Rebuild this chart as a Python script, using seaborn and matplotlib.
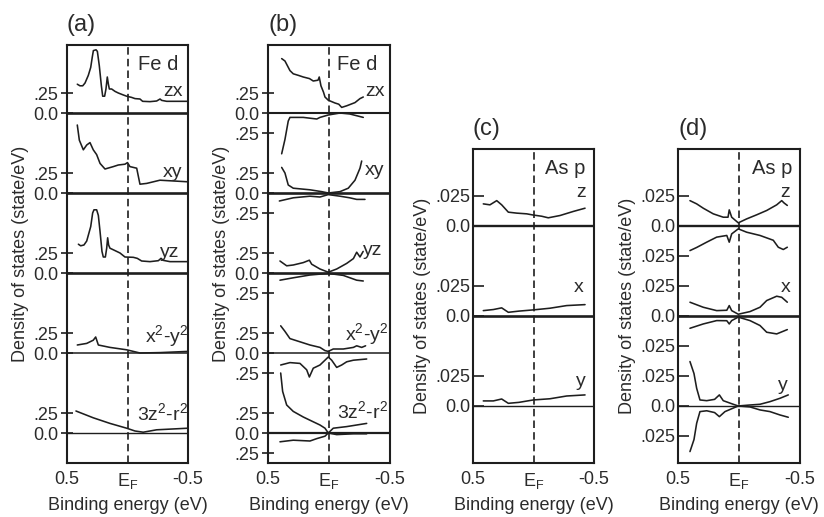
import pandas as pd
import seaborn as sns
import matplotlib.pyplot as plt

# energies (eV, binding) and DOS values; down-spin stored as negative
# --- (a) Fe d ---
a_zx = [(0.415, 0.36), (0.393, 0.34), (0.370, 0.34), (0.351, 0.375), (0.324, 0.47), (0.304, 0.57),
        (0.291, 0.70), (0.282, 0.78), (0.260, 0.79), (0.249, 0.77), (0.233, 0.59), (0.216, 0.34),
        (0.205, 0.21), (0.189, 0.21), (0.178, 0.30), (0.167, 0.45), (0.158, 0.36), (0.150, 0.30),
        (0.131, 0.30), (0.103, 0.27), (0.076, 0.25), (0.034, 0.225), (0.007, 0.21), (-0.034, 0.195),
        (-0.062, 0.18), (-0.103, 0.175), (-0.125, 0.146), (-0.186, 0.142), (-0.241, 0.15),
        (-0.269, 0.175), (-0.282, 0.158), (-0.324, 0.146), (-0.503, 0.146)]
a_xy = [(0.415, 0.85), (0.398, 0.66), (0.365, 0.54), (0.337, 0.60), (0.310, 0.63), (0.283, 0.54),
        (0.255, 0.48), (0.227, 0.37), (0.186, 0.30), (0.117, 0.33), (0.076, 0.35), (0.021, 0.36),
        (0.0, 0.38), (-0.02, 0.33), (-0.076, 0.31), (-0.103, 0.11), (-0.159, 0.12), (-0.268, 0.16),
        (-0.5, 0.14)]
a_yz = [(0.406, 0.36), (0.387, 0.34), (0.360, 0.35), (0.337, 0.40), (0.304, 0.58), (0.288, 0.75),
        (0.277, 0.79), (0.255, 0.79), (0.241, 0.72), (0.227, 0.52), (0.211, 0.27), (0.200, 0.20),
        (0.183, 0.20), (0.172, 0.31), (0.164, 0.44), (0.156, 0.35), (0.145, 0.31), (0.117, 0.29),
        (0.062, 0.25), (0.021, 0.20), (-0.048, 0.196), (-0.081, 0.183), (-0.117, 0.15),
        (-0.186, 0.142), (-0.255, 0.154), (-0.277, 0.183), (-0.296, 0.158), (-0.351, 0.142),
        (-0.503, 0.142)]
a_x2y2 = [(0.415, 0.10), (0.337, 0.12), (0.283, 0.16), (0.263, 0.20), (0.241, 0.10), (0.145, 0.07),
          (0.007, 0.04), (-0.103, 0.0), (-0.27, 0.005), (-0.5, 0.02)]
a_z2 = [(0.426, 0.275), (0.283, 0.19), (0.145, 0.12), (0.007, 0.06), (-0.062, 0.025), (-0.13, 0.01),
        (-0.241, 0.04), (-0.5, 0.06)]

# --- (b) Fe d, spin up / spin down ---
b_zx_up = [(0.388, 0.68), (0.361, 0.65), (0.32, 0.53), (0.293, 0.49), (0.25, 0.47), (0.211, 0.45),
           (0.16, 0.43), (0.129, 0.40), (0.09, 0.41), (0.08, 0.45), (0.066, 0.34), (0.045, 0.26),
           (0.033, 0.20), (0.006, 0.16), (-0.049, 0.125), (-0.08, 0.11), (-0.104, 0.07),
           (-0.145, 0.09), (-0.213, 0.13), (-0.254, 0.18), (-0.281, 0.20)]
b_zx_dn = [(0.388, -0.51), (0.361, -0.33), (0.334, -0.10), (0.32, -0.055), (0.211, -0.055),
           (0.10, -0.075), (0.074, -0.055), (0.006, -0.025), (-0.09, 0.0), (-0.17, -0.012),
           (-0.281, -0.055)]
b_xy_up = [(0.388, 0.32), (0.361, 0.25), (0.334, 0.10), (0.293, 0.06), (0.156, 0.04), (0.06, 0.017),
           (0.006, 0.0), (-0.09, 0.017), (-0.158, 0.06), (-0.213, 0.16), (-0.254, 0.31),
           (-0.268, 0.40)]
b_xy_dn = [(0.407, -0.10), (0.293, -0.06), (0.156, -0.04), (0.074, -0.05), (0.006, -0.02),
           (-0.09, -0.04), (-0.17, -0.06), (-0.227, -0.08), (-0.295, -0.08)]
b_yz_up = [(0.402, 0.15), (0.347, 0.09), (0.293, 0.10), (0.211, 0.13), (0.161, 0.16), (0.142, 0.11),
           (0.074, 0.05), (0.006, 0.01), (-0.063, 0.05), (-0.145, 0.12), (-0.2, 0.18),
           (-0.227, 0.26), (-0.254, 0.20), (-0.28, 0.27)]
b_yz_dn = [(0.402, -0.09), (0.293, -0.06), (0.156, -0.025), (0.006, -0.005), (-0.117, -0.03),
           (-0.227, -0.09), (-0.281, -0.10)]
b_x2y2_up = [(0.396, 0.34), (0.361, 0.27), (0.32, 0.18), (0.238, 0.14), (0.156, 0.10), (0.074, 0.07),
             (0.033, 0.03), (0.006, 0.02), (-0.035, 0.05), (-0.117, 0.05), (-0.2, 0.07),
             (-0.227, 0.09), (-0.268, 0.07), (-0.3, 0.09)]
b_x2y2_dn = [(0.396, -0.15), (0.32, -0.12), (0.238, -0.13), (0.183, -0.21), (0.161, -0.30),
             (0.129, -0.19), (0.074, -0.15), (0.033, -0.09), (0.006, -0.05), (-0.022, -0.09),
             (-0.063, -0.18), (-0.104, -0.15), (-0.145, -0.11), (-0.2, -0.09), (-0.309, -0.075)]
b_z2_up = [(0.396, 0.75), (0.38, 0.52), (0.347, 0.35), (0.293, 0.27), (0.211, 0.20), (0.129, 0.14),
           (0.074, 0.10), (0.033, 0.06), (0.006, 0.0), (-0.035, 0.06), (-0.145, 0.08),
           (-0.227, 0.10), (-0.309, 0.12)]
b_z2_dn = [(0.402, -0.11), (0.293, -0.09), (0.156, -0.10), (0.10, -0.07), (0.033, -0.04),
           (0.006, 0.0), (-0.063, -0.02), (-0.2, -0.01), (-0.309, -0.01)]

# --- (c) As p ---
c_z = [(0.415, 0.0183), (0.36, 0.0175), (0.304, 0.021), (0.263, 0.0175), (0.208, 0.0114),
       (0.139, 0.0106), (0.056, 0.010), (0.002, 0.009), (-0.068, 0.008), (-0.122, 0.0067),
       (-0.219, 0.0086), (-0.329, 0.012), (-0.426, 0.0147)]
c_x = [(0.415, 0.0044), (0.332, 0.0053), (0.263, 0.0067), (0.208, 0.003), (0.12, 0.004),
       (0.002, 0.005), (-0.136, 0.0064), (-0.274, 0.0086), (-0.426, 0.0094)]
c_y = [(0.415, 0.0042), (0.332, 0.0042), (0.263, 0.0058), (0.208, 0.0022), (0.12, 0.003),
       (0.002, 0.005), (-0.136, 0.006), (-0.274, 0.0083), (-0.426, 0.0092)]

# --- (d) As p, spin up / spin down ---
d_z_up = [(0.402, 0.021), (0.347, 0.0183), (0.293, 0.0147), (0.211, 0.010), (0.129, 0.0072),
          (0.09, 0.0072), (0.08, 0.0133), (0.06, 0.0072), (0.006, 0.0025), (-0.063, 0.0058),
          (-0.145, 0.0092), (-0.227, 0.0128), (-0.309, 0.0175), (-0.35, 0.021), (-0.37, 0.019),
          (-0.396, 0.017)]
d_z_dn = [(0.402, -0.0206), (0.347, -0.018), (0.265, -0.0136), (0.183, -0.0094), (0.10, -0.008),
          (0.08, -0.0136), (0.06, -0.0067), (0.006, -0.0025), (-0.063, -0.0053), (-0.172, -0.008),
          (-0.281, -0.012), (-0.322, -0.0178), (-0.363, -0.0197), (-0.396, -0.0178)]
d_x_up = [(0.402, 0.0114), (0.293, 0.0072), (0.183, 0.0044), (0.10, 0.0047), (0.08, 0.0086),
          (0.06, 0.0044), (0.006, 0.0014), (-0.09, 0.0036), (-0.172, 0.0072), (-0.227, 0.0128),
          (-0.309, 0.0164), (-0.35, 0.0155), (-0.396, 0.0114)]
d_x_dn = [(0.402, -0.0103), (0.293, -0.0067), (0.183, -0.0039), (0.10, -0.004), (0.08, -0.0067),
          (0.06, -0.0039), (0.006, -0.001), (-0.09, -0.0039), (-0.172, -0.008), (-0.227, -0.0136),
          (-0.309, -0.015), (-0.396, -0.0114)]
d_y_up = [(0.402, 0.037), (0.369, 0.027), (0.347, 0.0147), (0.32, 0.005), (0.265, 0.0044),
          (0.20, 0.0055), (0.161, 0.0092), (0.129, 0.0044), (0.047, 0.0014), (0.006, 0.0),
          (-0.09, 0.0008), (-0.172, 0.0014), (-0.254, 0.0036), (-0.336, 0.0064), (-0.404, 0.0092)]
d_y_dn = [(0.402, -0.038), (0.369, -0.028), (0.347, -0.0144), (0.32, -0.0047), (0.265, -0.004),
          (0.20, -0.0055), (0.161, -0.0089), (0.115, -0.0047), (0.006, 0.0), (-0.09, -0.0008),
          (-0.172, -0.0033), (-0.254, -0.0047), (-0.336, -0.0075), (-0.404, -0.0094)]

fe_names = ["zx", "xy", "yz", "x$^2$-y$^2$", "3z$^2$-r$^2$"]
as_names = ["z", "x", "y"]
x_ticks = [0.5, 0.0, -0.5]
x_ticklabels = ["0.5", "E$_F$", "-0.5"]

sns.set_theme(style="white")
plt.rcParams["font.family"] = ["Liberation Sans", "DejaVu Sans"]
plt.rcParams["mathtext.default"] = "regular"

INK = "#1e1e1e"
TXT = "#2b2b2b"
W, H = 824, 517

panels = [
    dict(tag="(a)", box=(67, 45, 188, 463), head="Fe d", names=fe_names,
         curves=[[a_zx], [a_xy], [a_yz], [a_x2y2], [a_z2]], offsets=[4, 3, 2, 1, 0],
         step=0.25, tick_fmt=".25", neg=False, ylim=(-0.375, 4.85),
         zero_lw=[1.9, 1.9, 1.9, 1.1, 1.0], name_x=[0.96, 0.95, 0.93, 1.0, 1.0],
         name_dy=[0.21, 0.20, 0.20, 0.14, 0.16], head_xy=(0.92, 4.6), tick_dir="inout"),
    dict(tag="(b)", box=(268, 45, 390, 463), head="Fe d", names=fe_names,
         curves=[[b_zx_up, b_zx_dn], [b_xy_up, b_xy_dn], [b_yz_up, b_yz_dn],
                 [b_x2y2_up, b_x2y2_dn], [b_z2_up, b_z2_dn]], offsets=[4, 3, 2, 1, 0],
         step=0.25, tick_fmt=".25", neg=True, ylim=(-0.375, 4.85),
         zero_lw=[1.5, 1.9, 1.9, 1.1, 1.6], name_x=[0.96, 0.95, 0.94, 0.985, 0.985],
         name_dy=[0.21, 0.22, 0.22, 0.16, 0.19], head_xy=(0.90, 4.6), tick_dir="inout"),
    dict(tag="(c)", box=(473, 149, 594, 463), head="As p", names=as_names,
         curves=[[c_z], [c_x], [c_y]], offsets=[0.15, 0.075, 0.0],
         step=0.025, tick_fmt=".025", neg=False, ylim=(-0.0475, 0.214),
         zero_lw=[1.7, 1.9, 1.0], name_x=[0.93, 0.91, 0.93],
         name_dy=[0.024, 0.02, 0.0167], head_xy=(0.93, 0.198), tick_dir="in"),
    dict(tag="(d)", box=(678, 149, 800, 463), head="As p", names=as_names,
         curves=[[d_z_up, d_z_dn], [d_x_up, d_x_dn], [d_y_up, d_y_dn]], offsets=[0.15, 0.075, 0.0],
         step=0.025, tick_fmt=".025", neg=True, ylim=(-0.0475, 0.214),
         zero_lw=[1.7, 1.9, 1.0], name_x=[0.92, 0.92, 0.90],
         name_dy=[0.024, 0.02, 0.0133], head_xy=(0.94, 0.198), tick_dir="in"),
]

fig = plt.figure(figsize=(W / 100, H / 100), dpi=100)

for p in panels:
    l, t, r, b = p["box"]
    ax = fig.add_axes([l / W, 1 - b / H, (r - l) / W, (b - t) / H])

    yt, ytl = [], []
    for i, (group, off) in enumerate(zip(p["curves"], p["offsets"])):
        for pts in group:
            df = pd.DataFrame(pts, columns=["energy", "dos"])
            df["y"] = df["dos"] + off
            sns.lineplot(data=df, x="energy", y="y", ax=ax, color=INK, lw=1.15,
                         sort=False, estimator=None)
        ax.axhline(off, color=INK, lw=p["zero_lw"][i])
        yt += [off, off + p["step"]]
        ytl += ["0.0", p["tick_fmt"]]
        if p["neg"]:
            yt.append(off - p["step"])
            ytl.append(p["tick_fmt"])
        ax.text(p["name_x"][i], off + p["name_dy"][i], p["names"][i],
                transform=ax.get_yaxis_transform(), ha="right", va="baseline",
                fontsize=14, color=TXT)

    ax.axvline(0, color=INK, lw=1.2, ls=(0, (4.5, 2.5)))
    ax.text(*p["head_xy"], p["head"], transform=ax.get_yaxis_transform(),
            ha="right", va="center", fontsize=14.5, color=TXT)

    ax.set_xlim(0.5, -0.5)
    ax.set_ylim(*p["ylim"])
    ax.set_xticks(x_ticks)
    ax.set_xticklabels(x_ticklabels)
    ax.set_yticks(yt)
    ax.set_yticklabels(ytl)
    ax.tick_params(axis="x", length=0, pad=6, labelsize=13, colors=TXT)
    ax.tick_params(axis="y", direction=p["tick_dir"], length=8, width=1.2, color=INK,
                   pad=2, labelsize=13, labelcolor=TXT, left=True)
    for s in ax.spines.values():
        s.set_color(INK)
        s.set_linewidth(1.5)
    ax.set_xlabel("Binding energy (eV)", fontsize=13, color=TXT, labelpad=4)
    ax.set_ylabel("Density of states (state/eV)", fontsize=13, color=TXT, labelpad=3)

    fig.text(l / W, 1 - (t - 20) / H, p["tag"], fontsize=17, color=TXT, ha="left", va="center")

fig.savefig("out.png", dpi=100)
